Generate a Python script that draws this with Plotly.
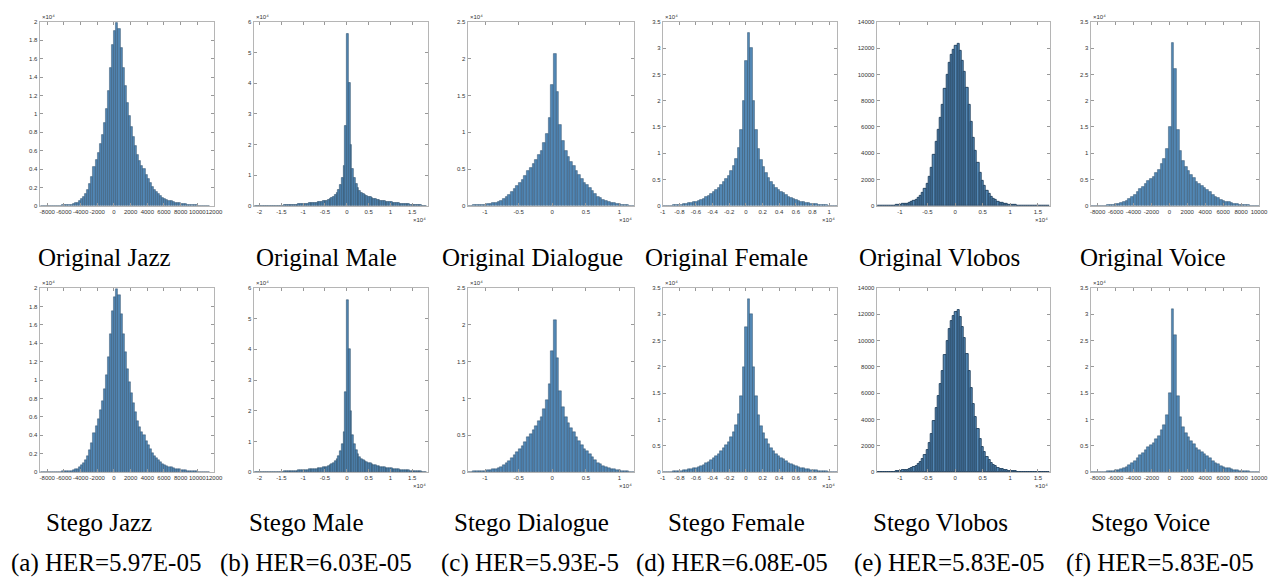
import plotly.graph_objects as go

W, H = 1269, 578

# ---------------- data (bin start, bin width, counts) ----------------
# Jazz: x in samples, counts in 1e4
jazz_start, jazz_bin = -8750, 250
jazz_counts = [0.002, 0.002, 0.002, 0.003, 0.003, 0.003, 0.004, 0.004, 0.005, 0.006,
               0.007, 0.009, 0.011, 0.014, 0.017, 0.022, 0.028, 0.038, 0.052, 0.072,
               0.1, 0.135, 0.18, 0.24, 0.32, 0.42, 0.5, 0.58, 0.67, 0.77,
               0.9, 1.05, 1.25, 1.5, 1.75,
               1.9, 1.99, 1.92, 1.72, 1.5, 1.3, 1.12, 0.98, 0.86, 0.75,
               0.65, 0.56, 0.49, 0.44, 0.4, 0.34, 0.29, 0.25, 0.21, 0.18,
               0.155, 0.13, 0.11, 0.092, 0.078, 0.066, 0.057, 0.05, 0.044, 0.038,
               0.033, 0.029, 0.025, 0.021, 0.018, 0.015, 0.013, 0.011, 0.009, 0.007,
               0.006, 0.005, 0.004, 0.003, 0.002, 0.002]

# Male: x in 1e4, counts in 1e4
male_start, male_bin = -2.12, 0.04
male_counts = [0.004, 0.004, 0.005, 0.005, 0.005, 0.006, 0.006, 0.007, 0.008, 0.008,
               0.009, 0.01, 0.011, 0.012, 0.014, 0.016,
               0.018, 0.02, 0.023, 0.026, 0.03, 0.034, 0.039, 0.044, 0.05, 0.056,
               0.063, 0.07,
               0.074, 0.078, 0.082, 0.087, 0.092, 0.098, 0.105, 0.112, 0.12, 0.13,
               0.14, 0.15,
               0.16, 0.18, 0.2, 0.23, 0.27, 0.31, 0.36,
               0.43, 0.53, 0.68, 0.9, 1.3, 2.6,
               5.6,
               4.0, 2.0, 1.2, 0.9, 0.72, 0.6, 0.5, 0.44, 0.4,
               0.36, 0.33, 0.3, 0.28, 0.26, 0.24, 0.22, 0.2, 0.19, 0.17,
               0.16, 0.15, 0.14, 0.13, 0.125, 0.12, 0.11, 0.1, 0.095, 0.09,
               0.08, 0.075, 0.07, 0.065, 0.06, 0.055, 0.05, 0.045, 0.04, 0.035,
               0.03, 0.025, 0.02, 0.016, 0.012, 0.008]

# Dialogue: x in 1e4, counts in 1e4
dialogue_start, dialogue_bin = -1.26, 0.04
dialogue_counts = [0.005, 0.007, 0.008, 0.01, 0.012, 0.015, 0.02, 0.025, 0.03, 0.038,
                   0.047, 0.058, 0.075, 0.095, 0.12, 0.15, 0.19, 0.23, 0.27, 0.31,
                   0.36, 0.41, 0.47, 0.52, 0.57, 0.63, 0.69, 0.75, 0.85, 0.98,
                   1.2, 1.65, 2.07, 1.55, 1.1, 0.88, 0.75, 0.67, 0.6, 0.54,
                   0.48, 0.42, 0.37, 0.32, 0.28, 0.24, 0.2, 0.16, 0.13, 0.105,
                   0.085, 0.068, 0.055, 0.045, 0.036, 0.029, 0.023, 0.018, 0.014, 0.01,
                   0.007, 0.005]

# Female: x in 1e4, counts in 1e4
female_start, female_bin = -1.0, 0.03
female_counts = [0.005, 0.006, 0.008, 0.01, 0.012, 0.015, 0.02, 0.025, 0.032, 0.04,
                 0.05, 0.06, 0.07, 0.085, 0.1, 0.12, 0.14, 0.17, 0.2, 0.23,
                 0.27, 0.31, 0.35, 0.4, 0.45, 0.51, 0.58, 0.66, 0.76, 0.9,
                 1.1, 1.45, 2.0, 2.75, 3.3, 3.0, 2.0, 1.45, 1.08, 0.88,
                 0.74, 0.62, 0.53, 0.46, 0.4, 0.35, 0.31, 0.27, 0.24, 0.21,
                 0.18, 0.15, 0.13, 0.11, 0.095, 0.08, 0.07, 0.06, 0.05, 0.042,
                 0.035, 0.03, 0.025, 0.02, 0.016, 0.012, 0.009, 0.007, 0.005, 0.003]

# Vlobos: x in 1e4, raw counts
vlobos_start, vlobos_bin = -1.4, 0.04
vlobos_counts = [10, 12, 15, 18, 22, 27, 33, 40, 50, 65,
                 90, 120, 150, 190, 240, 300, 380, 480, 610, 780,
                 1000, 1300, 1700, 2200, 2900, 3900, 4900, 5800, 6700, 7700,
                 8900, 10000, 10900, 11500, 11900,
                 12200, 12300, 11800, 11000, 10200, 9000, 7700, 6400, 5200, 4200,
                 3300, 2500, 1900, 1500, 1150, 900, 700, 550, 430, 340,
                 260, 200, 160, 125, 100, 80, 65, 52, 42, 34,
                 28, 23, 19, 16, 13, 11, 9, 8, 7, 6,
                 5, 4, 3]

# Voice: x in samples, counts in 1e4
voice_start, voice_bin = -8800, 300
voice_counts = [0.003, 0.003, 0.004, 0.005, 0.006, 0.008, 0.012, 0.018, 0.026, 0.036,
                0.048, 0.062, 0.08, 0.1, 0.13, 0.17, 0.22, 0.27, 0.32, 0.37,
                0.42, 0.47, 0.51, 0.56, 0.62, 0.69, 0.8, 0.9, 1.08, 1.5,
                3.1, 2.6, 1.45, 1.05, 0.85, 0.75, 0.66, 0.6, 0.54, 0.45,
                0.42, 0.38, 0.34, 0.3, 0.26, 0.22, 0.18, 0.15, 0.12, 0.1,
                0.085, 0.07, 0.055, 0.045, 0.035, 0.028, 0.022, 0.017, 0.012, 0.008,
                0.006, 0.004, 0.003]

# tick values
jazz_xticks = [-8000, -6000, -4000, -2000, 0, 2000, 4000, 6000, 8000, 10000, 12000]
jazz_yticks = [0, 0.2, 0.4, 0.6, 0.8, 1, 1.2, 1.4, 1.6, 1.8, 2]
male_xticks = [-2, -1.5, -1, -0.5, 0, 0.5, 1, 1.5]
male_yticks = [0, 1, 2, 3, 4, 5, 6]
dialogue_xticks = [-1, -0.5, 0, 0.5, 1]
dialogue_yticks = [0, 0.5, 1, 1.5, 2, 2.5]
female_xticks = [-1, -0.8, -0.6, -0.4, -0.2, 0, 0.2, 0.4, 0.6, 0.8, 1]
female_yticks = [0, 0.5, 1, 1.5, 2, 2.5, 3, 3.5]
vlobos_xticks = [-1, -0.5, 0, 0.5, 1, 1.5]
vlobos_yticks = [0, 2000, 4000, 6000, 8000, 10000, 12000, 14000]
voice_xticks = [-8000, -6000, -4000, -2000, 0, 2000, 4000, 6000, 8000, 10000]
voice_yticks = [0, 0.5, 1, 1.5, 2, 2.5, 3, 3.5]

names = ["Jazz", "Male", "Dialogue", "Female", "Vlobos", "Voice"]
her_labels = ["(a) HER=5.97E-05", "(b) HER=6.03E-05", "(c) HER=5.93E-5",
              "(d) HER=6.08E-05", "(e) HER=5.83E-05", "(f) HER=5.83E-05"]

# stego histograms are visually identical to the originals
original = [
    (jazz_start, jazz_bin, jazz_counts),
    (male_start, male_bin, male_counts),
    (dialogue_start, dialogue_bin, dialogue_counts),
    (female_start, female_bin, female_counts),
    (vlobos_start, vlobos_bin, vlobos_counts),
    (voice_start, voice_bin, voice_counts),
]
stego = original

# ---------------- layout / style ----------------
panel_px = [(37, 213), (253, 429), (469, 637), (666, 842), (882, 1057), (1098, 1268)]
row_px = [(19, 205), (288, 474)]
xranges = [[-8913, 12000], [-2.136, 1.86], [-1.26, 1.215], [-1.0, 1.095],
           [-1.42, 1.72], [-8780, 10000]]
yranges = [[0, 2], [0, 6], [0, 2.5], [0, 3.5], [0, 14000], [0, 3.5]]
xticks = [jazz_xticks, male_xticks, dialogue_xticks, female_xticks, vlobos_xticks, voice_xticks]
yticks = [jazz_yticks, male_yticks, dialogue_yticks, female_yticks, vlobos_yticks, voice_yticks]
x_exp = [False, True, True, True, True, False]
y_exp = [True, True, True, True, False, True]
edge_w = [0.4, 0.5, 0.4, 0.4, 0.9, 0.4]

fill = "#5287b4"
edge = "#21405c"
tickfont = dict(family="Liberation Sans, Arial", size=6, color="#333333")
expfont = dict(family="Liberation Sans, Arial", size=6, color="#333333")
serif = dict(family="Liberation Serif, Times New Roman, serif", size=25, color="#000000")

fig = go.Figure()
layout = dict(width=W, height=H, margin=dict(l=0, r=0, t=0, b=0),
              paper_bgcolor="white", plot_bgcolor="white", showlegend=False,
              bargap=0)
annotations = []

k = 0
for r, rowdata in enumerate([original, stego]):
    for c in range(6):
        k += 1
        start, bw, counts = rowdata[c]
        xs = [start + (i + 0.5) * bw for i in range(len(counts))]
        xa = "x" if k == 1 else f"x{k}"
        ya = "y" if k == 1 else f"y{k}"
        fig.add_trace(go.Bar(x=xs, y=counts, width=bw, xaxis=xa, yaxis=ya,
                             marker=dict(color=fill, line=dict(color=edge, width=edge_w[c])),
                             hoverinfo="x+y"))
        l, rt = panel_px[c]
        top, bot = row_px[r]
        axis_common = dict(showgrid=False, zeroline=False, showline=True,
                           linecolor="#b5b5b5", linewidth=1, mirror="ticks",
                           ticks="inside", ticklen=3, tickcolor="#999999",
                           tickfont=tickfont, ticklabeloverflow="allow", tickangle=0)
        layout["xaxis" if k == 1 else f"xaxis{k}"] = dict(
            axis_common, domain=[l / W, rt / W], range=xranges[c],
            anchor=ya, tickvals=xticks[c], ticktext=[f"{v:g}" for v in xticks[c]])
        layout["yaxis" if k == 1 else f"yaxis{k}"] = dict(
            axis_common, domain=[1 - bot / H, 1 - top / H], range=yranges[c],
            anchor=xa, tickvals=yticks[c], ticktext=[f"{v:g}" for v in yticks[c]])
        if y_exp[c]:
            annotations.append(dict(x=l / W, y=1 - top / H, xref="paper", yref="paper",
                                    text="×10⁴", showarrow=False,
                                    xanchor="left", yanchor="bottom", font=expfont))
        if x_exp[c]:
            annotations.append(dict(x=rt / W, y=1 - (bot + 9) / H, xref="paper", yref="paper",
                                    text="×10⁴", showarrow=False,
                                    xanchor="right", yanchor="top", font=expfont))

orig_cx = [102, 327, 535, 730, 945, 1161]
stego_cx = [97, 306, 534, 740, 946, 1158]
her_cx = [104, 316, 532, 736, 955, 1168]
for c in range(6):
    annotations.append(dict(x=orig_cx[c] / W, y=1 - 257 / H, xref="paper", yref="paper",
                            text="Original " + names[c], showarrow=False,
                            xanchor="center", yanchor="middle", font=serif))
    annotations.append(dict(x=stego_cx[c] / W, y=1 - 525 / H, xref="paper", yref="paper",
                            text="Stego " + names[c], showarrow=False,
                            xanchor="center", yanchor="middle", font=serif))
    annotations.append(dict(x=her_cx[c] / W, y=1 - 566 / H, xref="paper", yref="paper",
                            text=her_labels[c], showarrow=False,
                            xanchor="center", yanchor="middle", font=serif))

layout["annotations"] = annotations
fig.update_layout(**layout)
fig.write_html("out.html")
